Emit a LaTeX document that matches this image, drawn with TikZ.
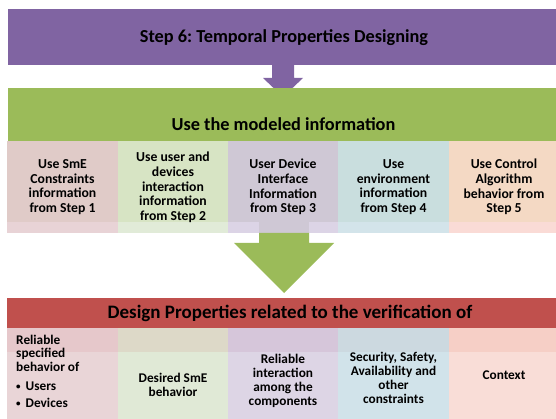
\documentclass[tikz,border=0pt]{standalone}
\usepackage{fontspec}
\setmainfont{Carlito}
\frenchspacing
\definecolor{stepviolet}{HTML}{8064A2}
\definecolor{modelgreen}{HTML}{9BBB59}
\definecolor{verifred}{HTML}{C0504D}
\definecolor{topa}{HTML}{E0CBC8}\definecolor{topb}{HTML}{D7E4C4}
\definecolor{topc}{HTML}{CFC8D5}\definecolor{topd}{HTML}{C9DEDE}
\definecolor{tope}{HTML}{F4D9C4}
\definecolor{stripa}{HTML}{E8D3D6}\definecolor{stripb}{HTML}{E1EBD8}
\definecolor{stripc}{HTML}{DCD4E6}\definecolor{stripd}{HTML}{D3E4EA}
\definecolor{stripe}{HTML}{FADBD6}
\definecolor{heada}{HTML}{E6C8CB}\definecolor{headb}{HTML}{DDD9C8}
\definecolor{headc}{HTML}{D6C6DA}\definecolor{headd}{HTML}{CCD9E0}
\definecolor{heade}{HTML}{F6CFC6}
\definecolor{bodya}{HTML}{E9D5D7}\definecolor{bodyb}{HTML}{E0E9D6}
\definecolor{bodyc}{HTML}{DDD5E5}\definecolor{bodyd}{HTML}{D1E3EA}
\definecolor{bodye}{HTML}{F9DDD7}
\newcommand{\propbullet}{\raisebox{1pt}{\fontsize{9}{9}\selectfont\textbullet}\hspace{5pt}}
\begin{document}
\begin{tikzpicture}[x=1pt,y=-1pt,
    celltext/.style={align=center,inner sep=0pt,font=\fontsize{13.7}{14.7}\selectfont\bfseries},
    proptext/.style={align=center,inner sep=0pt,font=\fontsize{13.3}{13.9}\selectfont\bfseries},
    bartext/.style={inner sep=0pt,font=\fontsize{18.3}{20}\selectfont\bfseries}]
    \useasboundingbox (0,0) rectangle (556,419);
    % step 6 bar and its arrow
    \fill[stepviolet] (8,9) rectangle (560,65);
    \node[bartext] (step) at (284,38) {Step 6: Temporal Properties Designing};
    \fill[stepviolet] (272,64)--(294,64)--(294,78)--(303,78)--(283,97)--(263,78)--(272,78)--cycle;
    % modeled information
    \fill[modelgreen] (8,88) rectangle (560,141);
    \node[bartext] (used) at (283.5,124) {Use the modeled information};
    \fill[topa] (7,141) rectangle (118,222);   \fill[stripa] (7,222) rectangle (118,233);
    \fill[topb] (118,141) rectangle (228,222); \fill[stripb] (118,222) rectangle (228,233);
    \fill[topc] (228,141) rectangle (338,222); \fill[stripc] (228,222) rectangle (338,233);
    \fill[topd] (338,141) rectangle (449,222); \fill[stripd] (338,222) rectangle (449,233);
    \fill[tope] (449,141) rectangle (560,222); \fill[stripe] (449,222) rectangle (560,233);
    \fill[topc] (259,222) rectangle (309,233);
    \node[celltext] (info1) at (62.5,187) {Use SmE\\Constraints\\information\\from Step 1};
    \node[celltext] (info2) at (173,187.5) {Use user and\\devices\\interaction\\information\\from Step 2};
    \node[celltext] (info3) at (283,187) {User Device\\Interface\\Information\\from Step 3};
    \node[celltext] (info4) at (393.5,187) {Use\\environment\\information\\from Step 4};
    \node[celltext] (info5) at (504,187) {Use Control\\Algorithm\\behavior from\\Step 5};
    \fill[modelgreen] (259,233)--(309,233)--(309,243)--(334,243)--(284,293)--(234,243)--(259,243)--cycle;
    % verification
    \fill[verifred] (7,298) rectangle (560,328);
    \node[bartext,font=\fontsize{19}{21}\selectfont\bfseries] (design) at (290,313.5) {Design Properties related to the verification of};
    \fill[heada] (7,328) rectangle (118,352);   \fill[bodya] (7,352) rectangle (118,419);
    \fill[headb] (118,328) rectangle (228,352); \fill[bodyb] (118,352) rectangle (228,419);
    \fill[headc] (228,328) rectangle (338,352); \fill[bodyc] (228,352) rectangle (338,419);
    \fill[headd] (338,328) rectangle (449,352); \fill[bodyd] (338,352) rectangle (449,419);
    \fill[heade] (449,328) rectangle (560,352); \fill[bodye] (449,352) rectangle (560,419);
    \node[proptext,align=left,anchor=north west] (prop1) at (16,334.5)
        {Reliable\\specified\\behavior of\\[5pt]\propbullet Users\\[3pt]\propbullet Devices};
    \node[proptext] (prop2) at (173,385) {Desired SmE\\behavior};
    \node[proptext] (prop3) at (283,381) {Reliable\\interaction\\among the\\components};
    \node[proptext] (prop4) at (393.5,378) {Security, Safety,\\Availability and\\other\\constraints};
    \node[proptext] (prop5) at (504,375) {Context};
\end{tikzpicture}
\end{document}
